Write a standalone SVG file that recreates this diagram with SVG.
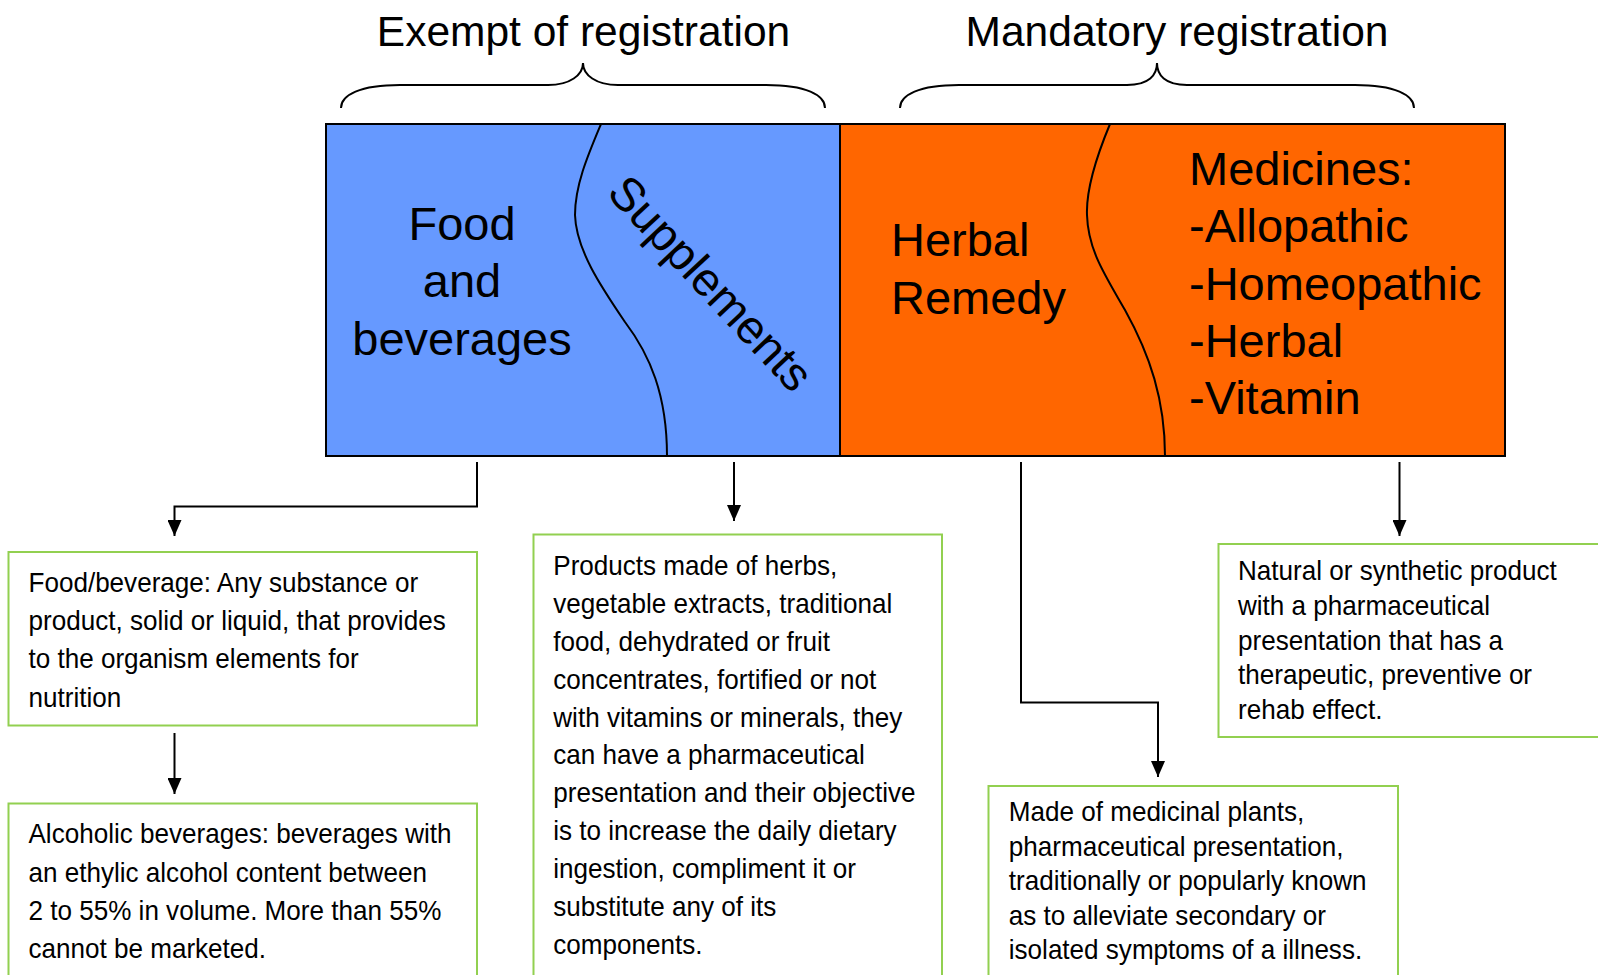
<svg xmlns="http://www.w3.org/2000/svg" width="1598" height="975" viewBox="0 0 1598 975">
<defs>
<marker id="arr" markerUnits="userSpaceOnUse" markerWidth="16" markerHeight="14" refX="16" refY="7" orient="auto">
<path d="M0,0 L16,7 L0,14 z" fill="#000"/>
</marker>
<style>
text{font-family:"Liberation Sans",Arial,sans-serif;fill:#000}
.title{font-size:42.5px;text-anchor:middle}
.big{font-size:47px}
.mid{text-anchor:middle}
.small{font-size:28.5px}
.brace{fill:none;stroke:#000;stroke-width:2}
.div{fill:none;stroke:#000;stroke-width:2}
.box{fill:#fff;stroke:#92D050;stroke-width:2}
.conn{fill:none;stroke:#000;stroke-width:2;marker-end:url(#arr)}
</style>
</defs>
<rect width="1598" height="975" fill="#fff"/>

<g id="exempt-title">
<text class="title" x="583.5" y="46">Exempt of registration</text>
<path class="brace" d="M341,108 C341,95 360,85 400,85 L548,85 C570,85 583,75 583,63 C583,75 596,85 618,85 L766,85 C806,85 825,95 825,108"/>
</g>
<g id="mandatory-title">
<text class="title" x="1177" y="46">Mandatory registration</text>
<path class="brace" d="M900,108 C900,95 919,85 959,85 L1127,85 C1149,85 1157,75 1157,63 C1157,75 1165,85 1187,85 L1355,85 C1395,85 1414,95 1414,108"/>
</g>

<g id="exempt-block">
<rect x="326" y="124" width="514" height="332" fill="#6699FF" stroke="#000" stroke-width="2"/>
<path class="div" d="M601,124 C588,155 575,185 575,215 C576,250 602,288 625,322 C650,355 667,395 667,456"/>
<text class="big mid" x="462" y="240">Food</text>
<text class="big mid" x="462" y="297">and</text>
<text class="big mid" x="462" y="355">beverages</text>
<text class="big mid" transform="translate(710,284) rotate(47)" x="0" y="15">Supplements</text>
</g>

<g id="mandatory-block">
<rect x="840" y="124" width="665" height="332" fill="#FF6600" stroke="#000" stroke-width="2"/>
<path class="div" d="M1110,124 C1095,160 1086,190 1087,215 C1088,250 1105,275 1125,310 C1150,355 1165,400 1165,456"/>
<text class="big" x="891" y="256">Herbal</text>
<text class="big" x="891" y="314">Remedy</text>
<text class="big" x="1189" y="185">Medicines:</text>
<text class="big" x="1189" y="242.3">-Allopathic</text>
<text class="big" x="1189" y="299.6">-Homeopathic</text>
<text class="big" x="1189" y="356.9">-Herbal</text>
<text class="big" x="1189" y="414.2">-Vitamin</text>
</g>

<g id="connectors">
<path class="conn" d="M477,462 V506.5 H174.5 V536"/>
<path class="conn" d="M174.5,733 V794"/>
<path class="conn" d="M734,462 V521"/>
<path class="conn" d="M1021,462 V702.5 H1158 V777"/>
<path class="conn" d="M1399.5,462 V536"/>
</g>

<g id="food-def">
<rect class="box" x="8.5" y="552" width="468.5" height="173.5"/>
<g transform="scale(0.915,1)">
<text class="small" x="31.15" y="591.7">Food/beverage: Any substance or</text>
<text class="small" x="31.15" y="630">product, solid or liquid, that provides</text>
<text class="small" x="31.15" y="668.3">to the organism elements for</text>
<text class="small" x="31.15" y="706.7">nutrition</text>
</g>
</g>

<g id="alcohol-def">
<rect class="box" x="8.5" y="803.5" width="468.5" height="200"/>
<g transform="scale(0.915,1)">
<text class="small" x="31.15" y="843.3">Alcoholic beverages: beverages with</text>
<text class="small" x="31.15" y="881.7">an ethylic alcohol content between</text>
<text class="small" x="31.15" y="920">2 to 55% in volume. More than 55%</text>
<text class="small" x="31.15" y="958.3">cannot be marketed.</text>
</g>
</g>

<g id="supplement-def">
<rect class="box" x="533.5" y="534.5" width="408.5" height="470"/>
<g transform="scale(0.915,1)">
<text class="small" x="604.7" y="575">Products made of herbs,</text>
<text class="small" x="604.7" y="612.9">vegetable extracts, traditional</text>
<text class="small" x="604.7" y="650.8">food, dehydrated or fruit</text>
<text class="small" x="604.7" y="688.7">concentrates, fortified or not</text>
<text class="small" x="604.7" y="726.6">with vitamins or minerals, they</text>
<text class="small" x="604.7" y="764.5">can have a pharmaceutical</text>
<text class="small" x="604.7" y="802.4">presentation and their objective</text>
<text class="small" x="604.7" y="840.3">is to increase the daily dietary</text>
<text class="small" x="604.7" y="878.2">ingestion, compliment it or</text>
<text class="small" x="604.7" y="916.1">substitute any of its</text>
<text class="small" x="604.7" y="954">components.</text>
</g>
</g>

<g id="herbal-def">
<rect class="box" x="988.5" y="786" width="409.5" height="220"/>
<g transform="scale(0.915,1)">
<text class="small" x="1102.5" y="821.5">Made of medicinal plants,</text>
<text class="small" x="1102.5" y="856">pharmaceutical presentation,</text>
<text class="small" x="1102.5" y="890.5">traditionally or popularly known</text>
<text class="small" x="1102.5" y="925">as to alleviate secondary or</text>
<text class="small" x="1102.5" y="959.5">isolated symptoms of a illness.</text>
</g>
</g>

<g id="medicine-def">
<rect class="box" x="1218.5" y="544" width="400" height="193"/>
<g transform="scale(0.915,1)">
<text class="small" x="1353" y="580.5">Natural or synthetic product</text>
<text class="small" x="1353" y="615.1">with a pharmaceutical</text>
<text class="small" x="1353" y="649.7">presentation that has a</text>
<text class="small" x="1353" y="684.3">therapeutic, preventive or</text>
<text class="small" x="1353" y="718.9">rehab effect.</text>
</g>
</g>
</svg>
